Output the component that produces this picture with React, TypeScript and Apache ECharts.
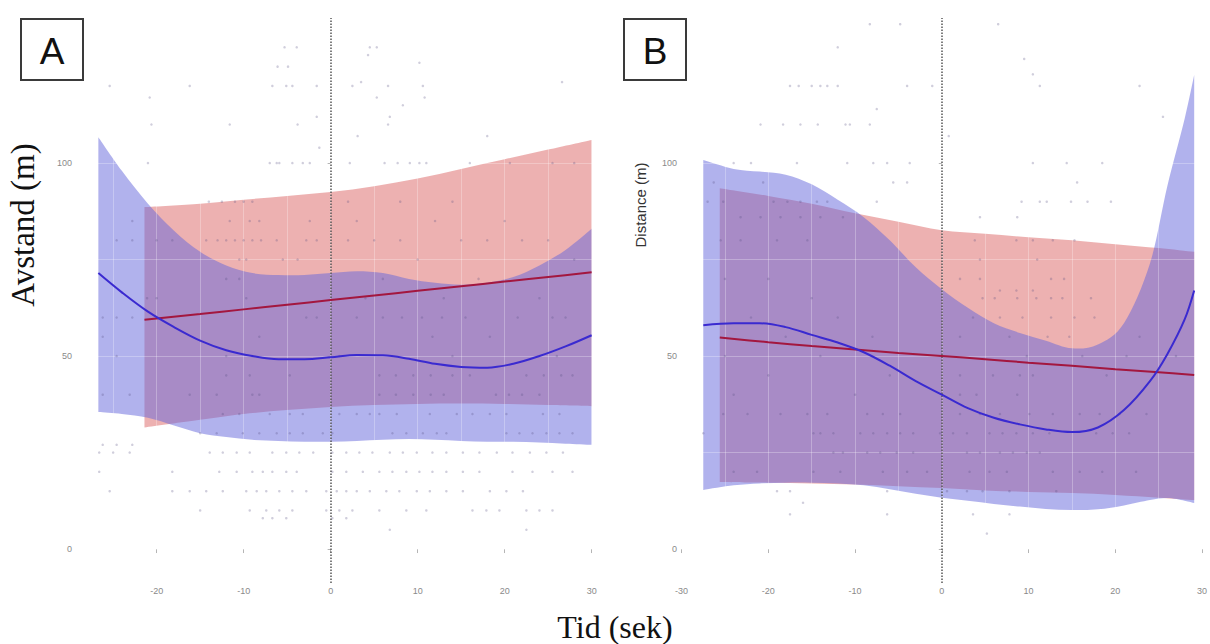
import React, { useEffect, useRef } from "react";
import * as echarts from "echarts";

// ---------- tick labels ----------
const xTicks = [-30, -20, -10, 0, 10, 20, 30];
const yTicks = [0, 50, 100];
const xGridLines = [-30, -25, -20, -15, -10, -5, 0, 5, 10, 15, 20, 25, 30];
const yGridLines = [0, 25, 50, 75, 100, 125];

// ---------- Panel A curves ----------
const blueAX = [-26.7, -24, -21, -18, -15, -12, -9, -6, -3, 0, 3, 6, 9, 12, 15, 18, 21, 24, 27, 30];
const blueAFit = [71.5, 66.5, 61.5, 57.5, 54, 51.5, 50, 49.2, 49.2, 49.7, 50.3, 50.2, 49.3, 48, 47.2, 47, 48, 50, 52.5, 55.4];
const blueAUpper = [106.7, 98, 89.5, 82.5, 77, 73.5, 71.5, 71, 71, 71.5, 72, 71.5, 70, 69, 68.5, 69, 70.5, 73.5, 77.5, 83];
const blueALower = [35.5, 35, 34, 32, 30, 29, 28.3, 28, 27.8, 27.8, 28, 28.3, 28.5, 28.3, 28, 27.8, 27.8, 27.6, 27.3, 27];
const redAX = [-21.4, -15, -10, -5, 0, 5, 10, 15, 20, 25, 30];
const redAFit = [59.4, 60.9, 62.1, 63.3, 64.5, 65.7, 66.9, 68.1, 69.3, 70.5, 71.7];
const redAUpper = [88.6, 89.5, 90.5, 91.5, 92.5, 94, 96, 98.5, 101, 103.5, 106];
const redALower = [31.5, 33.5, 35, 36, 36.8, 37.3, 37.6, 37.7, 37.6, 37.3, 37];

// ---------- Panel B curves ----------
const blueBX = [-27.5, -24, -21, -18, -15, -12, -9, -6, -3, 0, 3, 6, 9, 12, 15, 18, 21, 24, 26, 28, 29.1];
const blueBFit = [58, 58.5, 58.5, 57.5, 55.5, 53.5, 51, 47.5, 43.5, 40, 36.5, 34, 32.3, 31, 30.3, 31.5, 36, 43.5, 50.5, 59.5, 67];
const blueBUpper = [100.8, 98.5, 97.8, 97, 94.5, 90.5, 86, 80, 73, 67.3, 62.5, 58.5, 56, 54, 52, 53, 58.5, 74, 94, 111.5, 122.8];
const blueBLower = [15.3, 16.5, 17, 17.2, 17.2, 17, 16.5, 15.5, 14.3, 13.3, 12.5, 11.7, 11, 10.4, 10.1, 10.3, 11.3, 12.7, 13.2, 12.5, 11.9];
const redBX = [-25.6, -20, -15, -10, -5, 0, 5, 10, 15, 20, 25, 29.1];
const redBFit = [54.8, 53.6, 52.6, 51.7, 50.8, 50, 49.2, 48.3, 47.5, 46.6, 45.8, 45.1];
const redBUpper = [93.5, 91.5, 89.5, 87, 84.8, 82.6, 81.7, 80.8, 80, 79, 78, 77];
const redBLower = [17.4, 17.2, 17, 16.7, 16.3, 15.8, 15.2, 14.8, 14.5, 14, 13.3, 12.7];

// ---------- raw observations: [distance, times...] ----------
const pointRowsA: [number, number[]][] = [
  [130, [-5.3, -3.9, 4.5, 5.3]],
  [128, [4.3]],
  [126, [10.2]],
  [125, [-6.1, -4.9]],
  [121, [3.5, 26.6]],
  [120, [-25.4, -16.2, -6.7, -5.1, -4.4, -1.6, 2.5, 6.6, 10.6]],
  [117, [-20.8, 5.3, 10.8]],
  [115, [8.3]],
  [112, [-1.6, 6.8]],
  [110, [-20.6, -11.6, -3.8, 6.6]],
  [107, [3.1, 18]],
  [104, [-1.3]],
  [100, [-21, -7, -6.2, -5.9, -4.4, -3.2, -2.4, 2.2, 6.2, 7.7, 9.1, 10.2, 11, 16, 20.6, 25.5, 28]],
  [90, [-14, -12.5, -11, -10, -9, 2, 8, 14]],
  [85, [-22.8, -11.6, -9.3, -8.2, -2.4, 3, 12, 20]],
  [80, [-24.6, -22.8, -20, -18.2, -14.3, -13, -12, -11, -10, -9, -8, -6.2, -2.8, -1.6, 2, 5, 8, 15, 18, 22, 25]],
  [75, [-10.5, -9.7, -5.5, -3.8, 10, 28]],
  [70, [-12, -10.5, 6, 17]],
  [65, [-21.1, -20, -9.7, 4, 13, 24]],
  [60, [-26.2, -24.6, -22.8, -2.8, -1.6, 3, 6, 8.2, 10.5, 12.8, 15.5, 21.5, 25.5, 27]],
  [55, [-26.2, -8.2, 11.7, 18.3]],
  [50, [-24.6, -12, -9, 1, 14, 26]],
  [45, [-12, -9.3, -4.7, 5.6, 7.5, 9.5, 11.5, 14, 16, 22.5, 24.5, 26.5, 27.8]],
  [40, [-26.2, -23.1, -16.2, -13.1, -9, -8.2, 5.6, 7.5, 9.5, 11.5, 13, 19, 20.5, 22, 24]],
  [35, [-12.4, -10.5, -7, -4.7, -3.2, 1, 3, 4.5, 5.6, 7.6, 11.4, 14.5, 16.3, 18.3, 20.2, 24.4, 26.3]],
  [30, [-15, -13.1, -10.1, -8.2, -6.2, -4.7, -3.2, -0.9, 0.2, 7.1, 8.7, 10.6, 12.2, 13.3, 20.2, 21.7, 23.2, 24.8, 26.3, 27.8]],
  [27, [-26.2, -24.6, -22.8]],
  [25, [-26.6, -25, -23.1, -13.9, -12.4, -10.8, -9.3, -6.7, -5.1, -3.6, -2, 0.2, 1.8, 3.3, 4.8, 6.8, 8.3, 9.9, 11.7, 13.3, 15.2, 17.1, 19.1, 20.9, 22.9, 24.8, 26.7]],
  [20, [-26.6, -18.2, -12.8, -10.8, -9, -7.8, -6.7, -5.1, -3.9, 0.2, 1.8, 3.7, 5.6, 7.1, 8.7, 10.2, 11.7, 13.3, 15.2, 17.1, 20.9, 23.2, 25.5, 27.8]],
  [15, [-25.4, -18.2, -16.2, -14.3, -12.4, -9.7, -8.5, -7.4, -5.9, -4.4, -2.8, -0.5, 0.7, 1.8, 3, 4.5, 6.4, 7.9, 9.9, 11.4, 13.3, 15.2, 18.3, 20.2, 22.1]],
  [10, [-15, -9.3, -7.4, -5.9, -4.4, -0.5, 1, 2.5, 5.6, 8.7, 11, 16.3, 17.9, 19.4, 22.5, 24, 25.5]],
  [8, [-7.8, -6.7, -5.1, 0.2, 1.8]],
  [5, [6.8, 22.5]],
];

const pointRowsB: [number, number[]][] = [
  [136, [-8.3, -4.8, 6.5]],
  [130, [-12]],
  [127, [9.5]],
  [123, [10.5]],
  [120, [-17.5, -16.5, -15, -14, -13.2, -12, -4, -1.1, 11.3, 22.8]],
  [114, [-7.5]],
  [112, [25.5]],
  [110, [-20.9, -18.3, -16.3, -14.3, -11.1, -10.6, -8.3]],
  [107, [0.8]],
  [100, [-24, -22, -16.7, -10.9, -7.9, -6.3, -3.7, 10.5, 14.4, 18.5]],
  [95, [-26.3, -20.6, -5.6, -4, 15.6]],
  [90, [-27, -25.2, -19.4, -17.8, -16.3, -14.4, -13.2, -7.5, 9.2, 11.3, 12.1, 14.9, 16.8, 19.5]],
  [86, [-23.2, -20.9, -18.6, -16.3, -14, -11.4, 4.4, 8.7]],
  [80, [-25.5, -23.2, -19, -15.5, 3.8, 8.6, 10.5, 12.8, 15.3]],
  [75, [4.4, 11]],
  [70, [-25, -20, 2.1, 4.4, 12.6, 14.1]],
  [67, [6.7, 8.6, 10.5]],
  [65, [-15, 4.7, 6.1, 8.7, 10.9, 12.6, 13.9, 17.2]],
  [60, [-22, -12, 3.6, 6.7, 9.3, 12.6, 15.3, 17.6]],
  [55, [-18, -8, 2.1, 7.8, 12.2, 14.7, 22.8]],
  [50, [-25, -14, 9.8, 16.2, 21.3, 27]],
  [45, [-20, -6, 2.1, 5.9, 9, 10.5, 19]],
  [40, [-24, -10, 2.1, 4, 8.7]],
  [35, [-25.2, -22.4, -18.6, -15.5, -13.2, -8.6, -6.8, -4.8, 2.1, 4.4, 6.7, 10.1, 12.8, 15.9, 18.2, 20.5, 23.6]],
  [30, [-27.5, -14.8, -14, -12.5, -9.4, -7.9, -6.3, -4.8, -3.3, -0.2, 1.3, 2.9, 5.5, 7, 8.6, 10.5, 12.4, 17.8, 19.7, 21.6]],
  [25, [-12.5, -11.4, -8.6, -7.1, -5.2, -3.3, 2.9, 4.4, 6.7, 8.2, 9.8, 11.3]],
  [20, [-24, -21.3, -14.8, -11.7, -6.8, -4, -1.7, 3.2, 5.5, 7.5, 12.8, 15.9, 18.5, 22.4]],
  [15, [-19, -17.5, -6.3, 0.6, 2.9, 4.7, 7.8, 13.2]],
  [12, [-16]],
  [9, [-17.5, -6.3, 3.6, 7.8]],
  [4, [5.2]],
];

// ---------- helpers ----------
function rowsToPoints(rows: [number, number[]][]): number[][] {
  const out: number[][] = [];
  rows.forEach(([y, xs]) => xs.forEach((x) => out.push([x, y])));
  return out;
}

function catmull(pts: number[][], move: boolean): string {
  let s = (move ? "M" : "L") + pts[0][0].toFixed(2) + "," + pts[0][1].toFixed(2);
  for (let i = 0; i < pts.length - 1; i++) {
    const p0 = pts[i - 1] || pts[i];
    const p1 = pts[i];
    const p2 = pts[i + 1];
    const p3 = pts[i + 2] || p2;
    const c1x = p1[0] + (p2[0] - p0[0]) / 6;
    const c1y = p1[1] + (p2[1] - p0[1]) / 6;
    const c2x = p2[0] - (p3[0] - p1[0]) / 6;
    const c2y = p2[1] - (p3[1] - p1[1]) / 6;
    s += ` C${c1x.toFixed(2)},${c1y.toFixed(2)} ${c2x.toFixed(2)},${c2y.toFixed(2)} ${p2[0].toFixed(2)},${p2[1].toFixed(2)}`;
  }
  return s;
}

function ribbon(idx: number, xs: number[], lo: number[], hi: number[], fill: string, z: number) {
  return {
    type: "custom",
    xAxisIndex: idx,
    yAxisIndex: idx,
    silent: true,
    z,
    clip: true,
    data: [[xs[0], lo[0]]],
    renderItem: (_params: any, api: any) => {
      const up = xs.map((x, i) => api.coord([x, hi[i]]));
      const dn = xs.map((x, i) => api.coord([x, lo[i]])).reverse();
      const d = catmull(up, true) + " " + catmull(dn, false) + " Z";
      return { type: "path", shape: { pathData: d }, style: { fill } };
    },
  };
}

function fitLine(idx: number, xs: number[], ys: number[], color: string) {
  return {
    type: "line",
    xAxisIndex: idx,
    yAxisIndex: idx,
    data: xs.map((x, i) => [x, ys[i]]),
    smooth: 0.35,
    showSymbol: false,
    silent: true,
    z: 6,
    lineStyle: { color, width: 2 },
  };
}

function scatter(idx: number, rows: [number, number[]][]) {
  return {
    type: "scatter",
    xAxisIndex: idx,
    yAxisIndex: idx,
    data: rowsToPoints(rows),
    symbolSize: 2.5,
    silent: true,
    z: 5,
    itemStyle: { color: "rgba(85,80,130,0.35)" },
  };
}

function guides(idx: number) {
  return {
    type: "line",
    xAxisIndex: idx,
    yAxisIndex: idx,
    data: [],
    silent: true,
    z: 4,
    markLine: {
      silent: true,
      symbol: "none",
      label: { show: false },
      lineStyle: { color: "rgba(255,255,255,0.28)", width: 1, type: "solid" },
      data: [
        ...xGridLines.map((v) => ({ xAxis: v })),
        ...yGridLines.map((v) => ({ yAxis: v })),
      ],
    },
  };
}

function zeroLine(idx: number) {
  return {
    type: "line",
    xAxisIndex: idx,
    yAxisIndex: idx,
    data: [],
    silent: true,
    z: 8,
    markLine: {
      silent: true,
      symbol: "none",
      label: { show: false },
      lineStyle: { color: "#555", width: 1.5, type: [1.5, 1.5] },
      data: [{ xAxis: 0 }],
    },
  };
}

function mkX(idx: number, min: number, max: number) {
  return {
    type: "value",
    gridIndex: idx,
    min,
    max,
    axisLine: { show: false },
    axisTick: { show: true, length: 4, customValues: xTicks, lineStyle: { color: "#999" } },
    axisLabel: { customValues: xTicks, color: "#8a8a8a", fontSize: 9, margin: 3, fontFamily: "Liberation Sans" },
    splitLine: { show: false },
  };
}

function mkY(idx: number) {
  return {
    type: "value",
    gridIndex: idx,
    min: -8.8,
    max: 137.6,
    axisLine: { show: false },
    axisTick: { show: true, length: 3, customValues: yTicks, lineStyle: { color: "#999" } },
    axisLabel: { customValues: yTicks, color: "#8a8a8a", fontSize: 9, margin: 2, fontFamily: "Liberation Sans" },
    splitLine: { show: false },
  };
}

const BLUE_FILL = "rgba(99,101,219,0.5)";
const RED_FILL = "rgba(210,60,60,0.4)";
const BLUE_LINE = "#3a2ad0";
const RED_LINE = "#a3173f";

export default function App() {
  const ref = useRef<HTMLDivElement>(null);
  useEffect(() => {
    if (!ref.current) return;
    const chart = echarts.init(ref.current, undefined, { renderer: "svg" });
    const option: any = {
      animation: false,
      backgroundColor: "#ffffff",
      grid: [
        { left: 74, top: 18, width: 542, height: 565 },
        { left: 679, top: 18, width: 531, height: 565 },
      ],
      xAxis: [mkX(0, -29.5, 32.8), mkX(1, -30.3, 30.73)],
      yAxis: [mkY(0), mkY(1)],
      series: [
        ribbon(0, redAX, redALower, redAUpper, RED_FILL, 2),
        ribbon(0, blueAX, blueALower, blueAUpper, BLUE_FILL, 3),
        ribbon(1, redBX, redBLower, redBUpper, RED_FILL, 2),
        ribbon(1, blueBX, blueBLower, blueBUpper, BLUE_FILL, 3),
        guides(0),
        guides(1),
        scatter(0, pointRowsA),
        scatter(1, pointRowsB),
        fitLine(0, redAX, redAFit, RED_LINE),
        fitLine(0, blueAX, blueAFit, BLUE_LINE),
        fitLine(1, redBX, redBFit, RED_LINE),
        fitLine(1, blueBX, blueBFit, BLUE_LINE),
        zeroLine(0),
        zeroLine(1),
      ],
      graphic: [
        { type: "rect", shape: { x: 21, y: 19, width: 62, height: 61 }, style: { fill: "#fff", stroke: "#3a3a3a", lineWidth: 2 }, z: 20 },
        { type: "text", x: 52, y: 51, z: 21, style: { text: "A", fontSize: 37, fontFamily: "Liberation Sans", fill: "#111", textAlign: "center", textVerticalAlign: "middle", align: "center", verticalAlign: "middle" } },
        { type: "rect", shape: { x: 624, y: 19, width: 62, height: 61 }, style: { fill: "#fff", stroke: "#3a3a3a", lineWidth: 2 }, z: 20 },
        { type: "text", x: 655, y: 51, z: 21, style: { text: "B", fontSize: 37, fontFamily: "Liberation Sans", fill: "#111", textAlign: "center", textVerticalAlign: "middle", align: "center", verticalAlign: "middle" } },
        { type: "text", x: 23, y: 225, rotation: Math.PI / 2, z: 21, style: { text: "Avstand (m)", fontSize: 33, fontFamily: "Liberation Serif", fill: "#111", textAlign: "center", textVerticalAlign: "middle", align: "center", verticalAlign: "middle" } },
        { type: "text", x: 640, y: 205, rotation: Math.PI / 2, z: 21, style: { text: "Distance (m)", fontSize: 15, fontFamily: "Liberation Sans", fill: "#333", textAlign: "center", textVerticalAlign: "middle", align: "center", verticalAlign: "middle" } },
        { type: "text", x: 615, y: 627, z: 21, style: { text: "Tid (sek)", fontSize: 32, fontFamily: "Liberation Serif", fill: "#111", textAlign: "center", textVerticalAlign: "middle", align: "center", verticalAlign: "middle" } },
      ],
    };
    chart.setOption(option);
    return () => chart.dispose();
  }, []);
  return (
    <div
      ref={ref}
      style={{ position: "absolute", left: 0, top: 0, width: 1210, height: 644, background: "#fff" }}
    />
  );
}
